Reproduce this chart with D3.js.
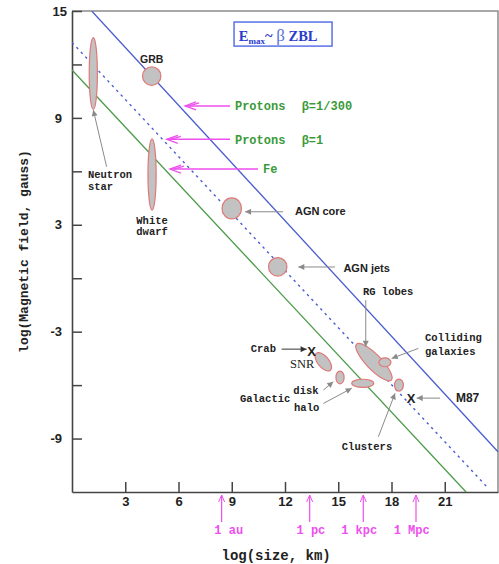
<!DOCTYPE html>
<html><head><meta charset="utf-8">
<script src="https://cdn.jsdelivr.net/npm/d3@7"></script>
<style>
body{margin:0;background:#fff}
.mono{font-family:"Liberation Mono","DejaVu Sans Mono",monospace;font-weight:bold}
.sans{font-family:"Liberation Sans",Arial,sans-serif}
.serif{font-family:"Liberation Serif","Times New Roman",serif}
</style>
</head><body>
<svg id="c" width="499" height="564"></svg>
<script>
// ---------- data ----------
const xTicks = [3, 6, 9, 12, 15, 18, 21];
const yTicks = [15, 12, 9, 6, 3, 0, -3, -6, -9];
const yTickLabels = ["15", "", "9", "", "3", "", "-3", "", "-9"];

// limit lines: log B vs log size
const blueLine   = [[1.11, 15], [24, -9.74]];     // protons beta=1/300
const dashedLine = [[0, 13.24], [23.4, -11.74]];  // protons beta=1
const greenLine  = [[0, 11.69], [22.2, -12]];     // Fe

// astrophysical objects (centre, half sizes in log units, tilt in degrees)
const objNames = ["Neutron star", "GRB", "White dwarf", "AGN core", "AGN jets", "SNR",
                  "Galactic disk", "Galactic halo", "RG lobes", "Colliding galaxies", "Clusters"];
const objX  = [1.2, 4.49, 4.51, 9.0, 11.59, 14.16, 15.1, 16.38, 17.01, 17.63, 18.42];
const objY  = [11.49, 11.35, 5.82, 3.92, 0.64, -4.69, -5.57, -5.9, -4.71, -4.72, -6.0];
const objRx = [0.23, 0.52, 0.23, 0.55, 0.52, 0.62, 0.23, 0.62, 1.41, 0.34, 0.25];
const objRy = [2.02, 0.52, 2.0, 0.59, 0.52, 0.31, 0.36, 0.23, 0.42, 0.25, 0.34];
const objTilt = [0, 0, 0, 0, 0, 50, 0, 0, 46, 0, 0];

// point sources
const pointNames = ["Crab", "M87"];
const pointX = [13.5, 19.1];
const pointY = [-4.07, -6.75];

// reference scales below the x axis
const scaleNames = ["1 au", "1 pc", "1 kpc", "1 Mpc"];
const scaleX = [8.43, 13.39, 16.41, 19.38];
const scaleLabelX = [8.83, 13.46, 16.18, 19.14];

// ---------- setup ----------
const svg = d3.select("#c");
const x = d3.scaleLinear().domain([0, 24]).range([72, 498]);
const y = d3.scaleLinear().domain([-12, 15]).range([492, 11]);
const kx = x(1) - x(0), ky = y(0) - y(1);

const defs = svg.append("defs");
defs.append("clipPath").attr("id", "plot").append("rect")
  .attr("x", x(0)).attr("y", y(15)).attr("width", x(24) - x(0)).attr("height", y(-12) - y(15));
function headMarker(id, color) {
  defs.append("marker").attr("id", id).attr("viewBox", "0 0 10 10")
    .attr("refX", 10).attr("refY", 5).attr("markerWidth", 8).attr("markerHeight", 6)
    .attr("markerUnits", "userSpaceOnUse").attr("orient", "auto")
    .append("path").attr("d", "M0,0 L10,5 L0,10 Z").attr("fill", color);
}
headMarker("grey", "#8a8a8a");
headMarker("dark", "#333");

// frame (top/right)
svg.append("path").attr("d", `M${x(0)},${y(15)} H${x(24)} V${y(-12)}`)
  .attr("fill", "none").attr("stroke", "#8c8c8c").attr("stroke-width", 1.5);

// axes
const gx = svg.append("g").attr("transform", `translate(0,${y(-12)})`)
  .call(d3.axisBottom(x).tickValues(xTicks).tickSize(-10).tickSizeOuter(0).tickPadding(5));
const gy = svg.append("g").attr("transform", `translate(${x(0)},0)`)
  .call(d3.axisLeft(y).tickValues(yTicks).tickSize(-10).tickSizeOuter(0).tickPadding(10)
    .tickFormat((d, i) => yTickLabels[i]));
[gx, gy].forEach(g => {
  g.select(".domain").attr("stroke", "#444").attr("stroke-width", 1.6);
  g.selectAll(".tick line").attr("stroke", "#444").attr("stroke-width", 1.5);
  g.selectAll(".tick text").attr("class", "sans").attr("font-size", 13)
    .attr("font-weight", "bold").attr("fill", "#222");
});
gy.selectAll(".tick text").filter(d => d === 15).attr("dx", 5);

// limit lines
const line = d3.line().x(d => x(d[0])).y(d => y(d[1]));
const gl = svg.append("g").attr("clip-path", "url(#plot)");
gl.append("path").attr("d", line(blueLine)).attr("stroke", "#4a5ccf").attr("stroke-width", 1.3).attr("fill", "none");
gl.append("path").attr("d", line(dashedLine)).attr("stroke", "#4a5ccf").attr("stroke-width", 1.4)
  .attr("stroke-dasharray", "2.5,4").attr("fill", "none");
gl.append("path").attr("d", line(greenLine)).attr("stroke", "#4a9a48").attr("stroke-width", 1.3).attr("fill", "none");

// objects
const objs = objNames.map((n, i) => ({n, x: objX[i], y: objY[i], rx: objRx[i], ry: objRy[i], t: objTilt[i]}));
svg.append("g").selectAll("ellipse").data(objs).join("ellipse")
  .attr("transform", d => `translate(${x(d.x)},${y(d.y)}) rotate(${d.t})`)
  .attr("rx", d => d.rx * kx).attr("ry", d => d.ry * ky)
  .attr("fill", "#c2c2c2").attr("stroke", "#e07878").attr("stroke-width", 1.2);

// point sources
svg.append("g").selectAll("text").data(pointNames.map((n, i) => ({n, x: pointX[i], y: pointY[i]})))
  .join("text").attr("class", "sans").attr("x", d => x(d.x)).attr("y", d => y(d.y) + 5)
  .attr("text-anchor", "middle").attr("font-size", 13).attr("font-weight", "bold").attr("fill", "#222").text("X");

// ---------- annotations (in data units) ----------
const labels = [
  {t: "GRB", x: 4.49, y: 12.08, a: "middle", c: "sans", s: 10.5},
  {t: "Neutron", x: 0.9, y: 5.65, a: "start", c: "mono", s: 10.5},
  {t: "star", x: 0.9, y: 4.95, a: "start", c: "mono", s: 10.5},
  {t: "White", x: 4.51, y: 3.07, a: "middle", c: "mono", s: 10.5},
  {t: "dwarf", x: 4.51, y: 2.40, a: "middle", c: "mono", s: 10.5},
  {t: "AGN core", x: 12.56, y: 3.55, a: "start", c: "sans", s: 11},
  {t: "AGN jets", x: 15.29, y: 0.35, a: "start", c: "sans", s: 11},
  {t: "RG lobes", x: 16.39, y: -0.95, a: "start", c: "mono", s: 10.5},
  {t: "Colliding", x: 19.89, y: -3.53, a: "start", c: "mono", s: 10.5},
  {t: "galaxies", x: 19.89, y: -4.29, a: "start", c: "mono", s: 10.5},
  {t: "Crab", x: 10.07, y: -4.15, a: "start", c: "mono", s: 10.5},
  {t: "SNR", x: 12.28, y: -5.06, a: "start", c: "serif", s: 12.5},
  {t: "disk", x: 12.47, y: -6.5, a: "start", c: "mono", s: 10.5},
  {t: "Galactic", x: 9.46, y: -6.95, a: "start", c: "mono", s: 10.5},
  {t: "halo", x: 12.51, y: -7.43, a: "start", c: "mono", s: 10.5},
  {t: "Clusters", x: 16.62, y: -9.65, a: "middle", c: "mono", s: 10.5},
  {t: "M87", x: 21.63, y: -6.95, a: "start", c: "sans", s: 12}
];
svg.append("g").selectAll("text").data(labels).join("text")
  .attr("class", d => d.c).attr("x", d => x(d.x)).attr("y", d => y(d.y))
  .attr("text-anchor", d => d.a).attr("font-size", d => d.s)
  .attr("font-weight", d => d.c === "serif" ? "normal" : "bold")
  .attr("fill", "#222").text(d => d.t);

const leaders = [
  {x0: 1.95, y0: 6.26, x1: 1.2, y1: 9.44, m: "grey"},
  {x0: 11.89, y0: 3.73, x1: 9.75, y1: 3.73, m: "grey"},
  {x0: 14.82, y0: 0.63, x1: 12.75, y1: 0.63, m: "grey"},
  {x0: 16.55, y0: -1.23, x1: 16.55, y1: -3.85, m: "grey"},
  {x0: 19.51, y0: -3.94, x1: 18.01, y1: -4.5, m: "grey"},
  {x0: 11.81, y0: -3.98, x1: 13.22, y1: -3.98, m: "dark"},
  {x0: 14.16, y0: -6.28, x1: 14.72, y1: -5.81, m: "grey"},
  {x0: 14.16, y0: -7.03, x1: 15.76, y1: -6.18, m: "grey"},
  {x0: 17.26, y0: -8.9, x1: 18.2, y1: -6.46, m: "grey"},
  {x0: 20.73, y0: -6.73, x1: 19.42, y1: -6.73, m: "grey"}
];
svg.append("g").selectAll("line").data(leaders).join("line")
  .attr("x1", d => x(d.x0)).attr("y1", d => y(d.y0)).attr("x2", d => x(d.x1)).attr("y2", d => y(d.y1))
  .attr("stroke", d => d.m === "dark" ? "#333" : "#8a8a8a").attr("stroke-width", 1)
  .attr("marker-end", d => `url(#${d.m})`);

// magenta arrows for the limit lines
const mag = "#ee4fee";
const limitArrows = [
  {x0: 8.9, x1: 6.37, y: 9.67, t1: "Protons", t2: "β=1/300", ty: 9.44},
  {x0: 8.9, x1: 5.34, y: 7.80, t1: "Protons", t2: "β=1", ty: 7.56},
  {x0: 10.48, x1: 5.52, y: 6.13, t1: "Fe", t2: "", ty: 5.9}
];
const ga = svg.append("g");
limitArrows.forEach(d => {
  const px = x(d.x1), py = y(d.y);
  ga.append("line").attr("x1", x(d.x0)).attr("x2", px).attr("y1", py).attr("y2", py)
    .attr("stroke", mag).attr("stroke-width", 1.6);
  ga.append("path").attr("d", `M${px + 11},${py - 4} L${px},${py} L${px + 11},${py + 4} M${px + 14},${py - 3} L${px + 4},${py}`)
    .attr("fill", "none").attr("stroke", mag).attr("stroke-width", 1.3);
  const tx = d.t1 === "Fe" ? x(10.76) : x(9.18);
  ga.append("text").attr("class", "mono").attr("x", tx).attr("y", y(d.ty)).attr("font-size", 12)
    .attr("fill", "#3a9a3a").text(d.t1);
  if (d.t2) ga.append("text").attr("class", "mono").attr("x", x(12.94)).attr("y", y(d.ty))
    .attr("font-size", 12).attr("fill", "#3a9a3a").text(d.t2);
});

// scale arrows under the axis
const gs = svg.append("g");
scaleNames.forEach((n, i) => {
  const px = x(scaleX[i]);
  gs.append("line").attr("x1", px).attr("x2", px).attr("y1", y(-12) + 3).attr("y2", y(-12) + 30)
    .attr("stroke", mag).attr("stroke-width", 1.2);
  gs.append("path").attr("d", `M${px - 3},${y(-12) + 10} L${px},${y(-12) + 3} L${px + 3},${y(-12) + 10}`)
    .attr("fill", "none").attr("stroke", mag).attr("stroke-width", 1);
  gs.append("text").attr("class", "mono").attr("x", x(scaleLabelX[i])).attr("y", y(-12) + 42)
    .attr("text-anchor", "middle").attr("font-size", 12).attr("fill", mag).text(n);
});

// title box
const tb = svg.append("g");
tb.append("rect").attr("x", x(9.13)).attr("y", y(14.38)).attr("width", x(14.65) - x(9.13))
  .attr("height", y(13.03) - y(14.38)).attr("fill", "#fff").attr("stroke", "#5a72e8").attr("stroke-width", 1.5);
const tt = tb.append("text").attr("class", "serif").attr("x", x(9.4)).attr("y", y(13.3))
  .attr("font-size", 14.5).attr("font-weight", "bold").attr("fill", "#2a3ccf");
tt.append("tspan").text("E");
tt.append("tspan").attr("font-size", 9).attr("dy", 3).text("max");
tt.append("tspan").attr("dy", -3).text("~  ");
tt.append("tspan").attr("font-weight", "normal").attr("font-size", 17).attr("fill", "#5a6fe0").text("β");
tt.append("tspan").text(" ZBL");

// axis titles
svg.append("text").attr("class", "mono").attr("x", x(11.5)).attr("y", 560)
  .attr("text-anchor", "middle").attr("font-size", 14).attr("fill", "#222").text("log(size, km)");
svg.append("text").attr("class", "mono").attr("transform", `translate(28,${y(1.5)}) rotate(-90)`)
  .attr("text-anchor", "middle").attr("font-size", 13).attr("fill", "#222").text("log(Magnetic field, gauss)");
</script>
</body></html>
